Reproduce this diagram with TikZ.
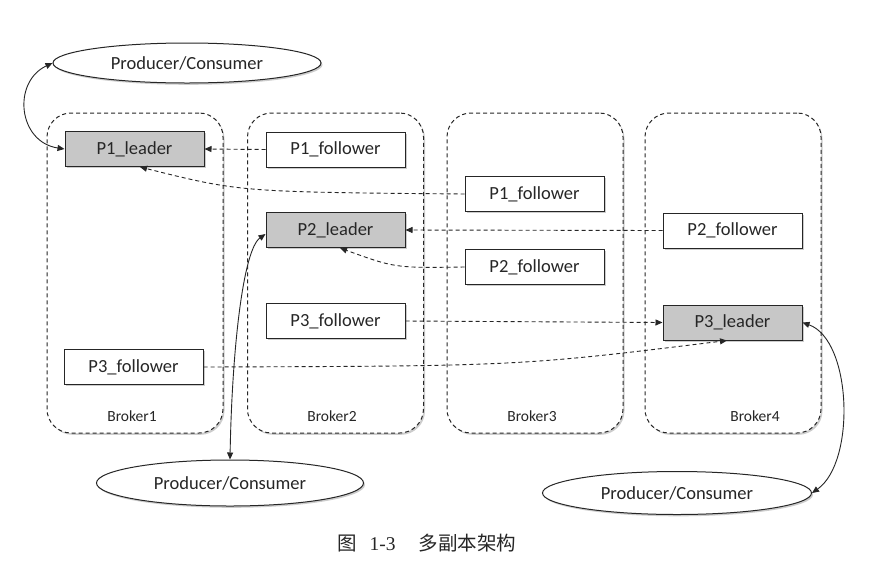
\documentclass[tikz,border=0pt]{standalone}
\usepackage{fontspec}
\setmainfont{Carlito}
\newfontfamily\cjk{Noto Sans CJK SC}
\newfontfamily\capserif{Liberation Serif}
\usetikzlibrary{arrows.meta,shapes.geometric,shadows}
\begin{document}
\begin{tikzpicture}[x=1pt,y=-1pt,
  shd/.style={drop shadow={shadow xshift=1.5pt,shadow yshift=-1.8pt,opacity=0.4}},
  broker/.style={draw=black!85,line width=1pt,dash pattern=on 4pt off 3pt,rounded corners=24pt,fill=white,minimum width=176pt,minimum height=320pt,inner sep=0pt,shd},
  part/.style={draw=black!85,line width=1pt,fill=white,minimum width=139pt,minimum height=35pt,inner sep=0pt,font=\fontsize{18.5}{20}\selectfont,text=black!85,shd},
  leader/.style={part,fill=black!22},
  client/.style={ellipse,draw=black!85,line width=1pt,fill=white,inner sep=0pt,font=\fontsize{18.5}{20}\selectfont,text=black!85,shd},
  blabel/.style={font=\fontsize{15.5}{17}\selectfont,text=black!85},
  repl/.style={draw=black!85,line width=0.9pt,dash pattern=on 4pt off 3pt,-{Triangle[length=7pt,width=6pt]}},
  access/.style={draw=black!85,line width=0.9pt,{Triangle[length=7pt,width=6pt]}-{Triangle[length=7pt,width=6pt]}}
]
\fill[white] (0,0) rectangle (873,574);
\useasboundingbox (0,0) rectangle (873,574);

% brokers
\node[broker] (b1) at (135,273) {};
\node[broker] (b2) at (335.5,273) {};
\node[broker] (b3) at (535,273) {};
\node[broker] (b4) at (733,273) {};
\node[blabel] (l1) at (132,416) {Broker1};
\node[blabel] (l2) at (332,416) {Broker2};
\node[blabel] (l3) at (532,416) {Broker3};
\node[blabel] (l4) at (755,416) {Broker4};

% partitions
\node[leader] (p1l) at (134.5,149) {P1\_leader};
\node[part] (p1f2) at (335.5,149.5) {P1\_follower};
\node[part] (p1f3) at (534.5,194) {P1\_follower};
\node[leader] (p2l) at (335.5,230) {P2\_leader};
\node[part] (p2f3) at (534.5,267) {P2\_follower};
\node[part] (p2f4) at (732.5,230.5) {P2\_follower};
\node[part] (p3f2) at (335.5,321) {P3\_follower};
\node[part] (p3f1) at (133.5,367) {P3\_follower};
\node[leader] (p3l) at (732.5,322.5) {P3\_leader};

% clients
\node[client,minimum width=268pt,minimum height=40pt] (e1) at (187,63) {Producer/Consumer};
\node[client,minimum width=267pt,minimum height=46pt] (e2) at (230,483) {Producer/Consumer};
\node[client,minimum width=269pt,minimum height=43pt] (e3) at (677,493) {Producer/Consumer};

% replication
\draw[repl] (p1f2.west) -- (p1l.east);
\draw[repl] (p1f3.west) .. controls (240,192) .. ([xshift=5.5pt]p1l.south);
\draw[repl] (p2f4.west) -- (p2l.east);
\draw[repl] (p2f3.west) .. controls (395,268) .. ([xshift=4.5pt]p2l.south);
\draw[repl] (p3f2.east) -- (p3l.west);
\draw[repl] (p3f1.east) .. controls (520,366) .. ([xshift=-5.5pt]p3l.south);

% client access
\draw[access] (e1.west) .. controls (12,82) and (18,142) .. (p1l.west);
\draw[access] ([yshift=-4pt]p2l.west) .. controls (243,250) and (232,350) .. (e2.north);
\draw[access] (p3l.east) .. controls (852,340) and (856,462) .. (e3.east);

% caption
\node[anchor=west,inner sep=0pt,text=black!85,font=\fontsize{19.5}{21}\selectfont] (cap) at (337,543)
  {{\cjk 图}\hspace{13pt}{\capserif 1-3}\hspace{23pt}{\cjk 多副本架构}};
\end{tikzpicture}
\end{document}
